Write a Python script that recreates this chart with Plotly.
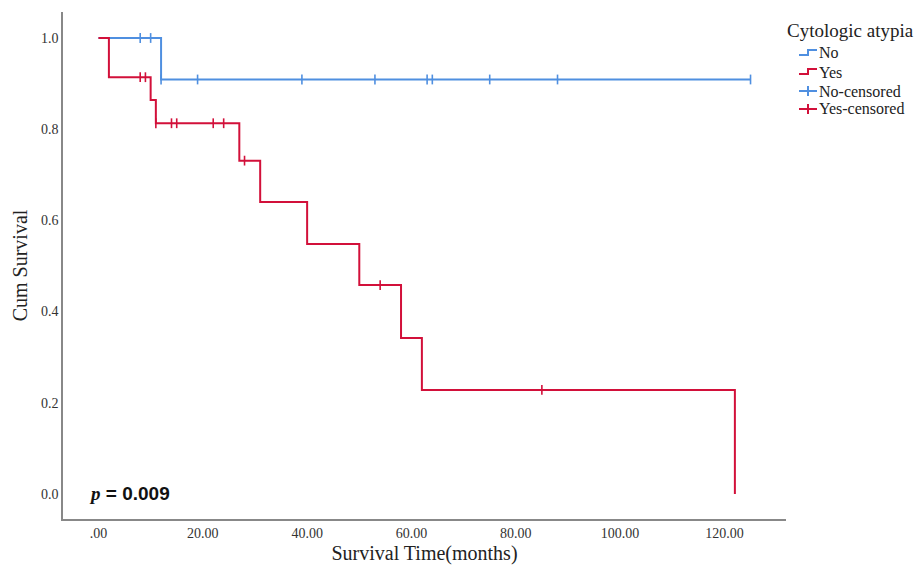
import plotly.graph_objects as go

# Kaplan-Meier step data (months, cumulative survival)
no_times = [0, 12, 125]
no_surv = [1.0, 0.909, 0.909]
yes_times = [0, 2, 10, 11, 27, 31, 40, 50, 58, 62, 122]
yes_surv = [1.0, 0.914, 0.864, 0.813, 0.731, 0.640, 0.548, 0.458, 0.342, 0.228, 0.0]

# censored observation times
no_censored = [8, 10, 12, 19, 39, 53, 63, 64, 75, 88, 125]
yes_censored = [8, 9, 11, 14, 15, 22, 24, 28, 54, 85]

x_ticks = [0, 20, 40, 60, 80, 100, 120]
x_labels = [".00", "20.00", "40.00", "60.00", "80.00", "100.00", "120.00"]
y_ticks = [0.0, 0.2, 0.4, 0.6, 0.8, 1.0]
y_labels = ["0.0", "0.2", "0.4", "0.6", "0.8", "1.0"]

legend_title = "Cytologic atypia"
legend_labels = ["No", "Yes", "No-censored", "Yes-censored"]

BLUE = "#4F8FE0"
RED = "#D2103A"
SERIF = "Liberation Serif"

W, H = 921, 571
ML, MR, MT, MB = 63, 135, 12, 52


def step_value(times, surv, t):
    v = surv[0]
    for ti, si in zip(times, surv):
        if t >= ti:
            v = si
    return v


def px(x):
    return (x - ML) / (W - ML - MR)


def py(y):
    return (H - MB - y) / (H - MT - MB)


fig = go.Figure()

fig.add_trace(go.Scatter(x=no_times, y=no_surv, mode="lines", line_shape="hv",
                         line=dict(color=BLUE, width=2), name="No", showlegend=False))
fig.add_trace(go.Scatter(x=yes_times, y=yes_surv, mode="lines", line_shape="hv",
                         line=dict(color=RED, width=2), name="Yes", showlegend=False))

fig.add_trace(go.Scatter(x=no_censored, y=[step_value(no_times, no_surv, t) for t in no_censored],
                         mode="markers", showlegend=False, name="No-censored",
                         marker=dict(symbol="line-ns", size=7, line=dict(color=BLUE, width=1.6))))
fig.add_trace(go.Scatter(x=yes_censored, y=[step_value(yes_times, yes_surv, t) for t in yes_censored],
                         mode="markers", showlegend=False, name="Yes-censored",
                         marker=dict(symbol="line-ns", size=7, line=dict(color=RED, width=1.6))))

# p-value annotation
fig.add_annotation(x=-2.2, y=0.0, xref="x", yref="y", xanchor="left", yanchor="middle",
                   text="<b><i><span style='font-family:Liberation Serif'>p</span></i> = 0.009</b>",
                   showarrow=False, font=dict(family="Liberation Sans", size=19, color="#111"))

# hand-drawn legend (SPSS style: step icons and cross icons)
fig.add_annotation(x=px(785), y=py(31), xref="paper", yref="paper", xanchor="left", yanchor="middle",
                   text=legend_title, showarrow=False, font=dict(family=SERIF, size=19, color="#222"))
item_y = [53, 72, 91, 109]
item_col = [BLUE, RED, BLUE, RED]
for i, (lab, yy, col) in enumerate(zip(legend_labels, item_y, item_col)):
    fig.add_annotation(x=px(817), y=py(yy), xref="paper", yref="paper", xanchor="left", yanchor="middle",
                       text=lab, showarrow=False, font=dict(family=SERIF, size=16, color="#222"))
    if i < 2:
        path = (f"M {px(799)},{py(yy + 2)} L {px(808)},{py(yy + 2)} "
                f"L {px(808)},{py(yy - 3)} L {px(817)},{py(yy - 3)}")
        fig.add_shape(type="path", path=path, xref="paper", yref="paper",
                      line=dict(color=col, width=2))
    else:
        fig.add_shape(type="line", x0=px(799), x1=px(817), y0=py(yy), y1=py(yy),
                      xref="paper", yref="paper", line=dict(color=col, width=2))
        fig.add_shape(type="line", x0=px(808), x1=px(808), y0=py(yy - 5), y1=py(yy + 5),
                      xref="paper", yref="paper", line=dict(color=col, width=2))

fig.update_layout(
    width=W, height=H,
    paper_bgcolor="white", plot_bgcolor="white",
    margin=dict(l=ML, r=MR, t=MT, b=MB, autoexpand=False),
    font=dict(family=SERIF, color="#222"),
    showlegend=False,
    xaxis=dict(range=[-6.8, 131.8], tickvals=x_ticks, ticktext=x_labels, automargin=False,
               showgrid=False, zeroline=False, showline=True, linecolor="#888", linewidth=1.5,
               ticks="", tickfont=dict(family=SERIF, size=14, color="#333"),
               title=dict(text="Survival Time(months)", font=dict(family=SERIF, size=20, color="#222"),
                          standoff=6)),
    yaxis=dict(range=[-0.055, 1.057], tickvals=y_ticks, ticktext=y_labels, automargin=False,
               showgrid=False, zeroline=False, showline=True, linecolor="#888", linewidth=1.5,
               ticks="", tickfont=dict(family=SERIF, size=14, color="#333"),
               title=dict(text="Cum Survival", font=dict(family=SERIF, size=20, color="#222"),
                          standoff=8)),
)

fig.write_html("out.html", config={"displayModeBar": False},
               post_script="document.body.style.margin='0px';")
